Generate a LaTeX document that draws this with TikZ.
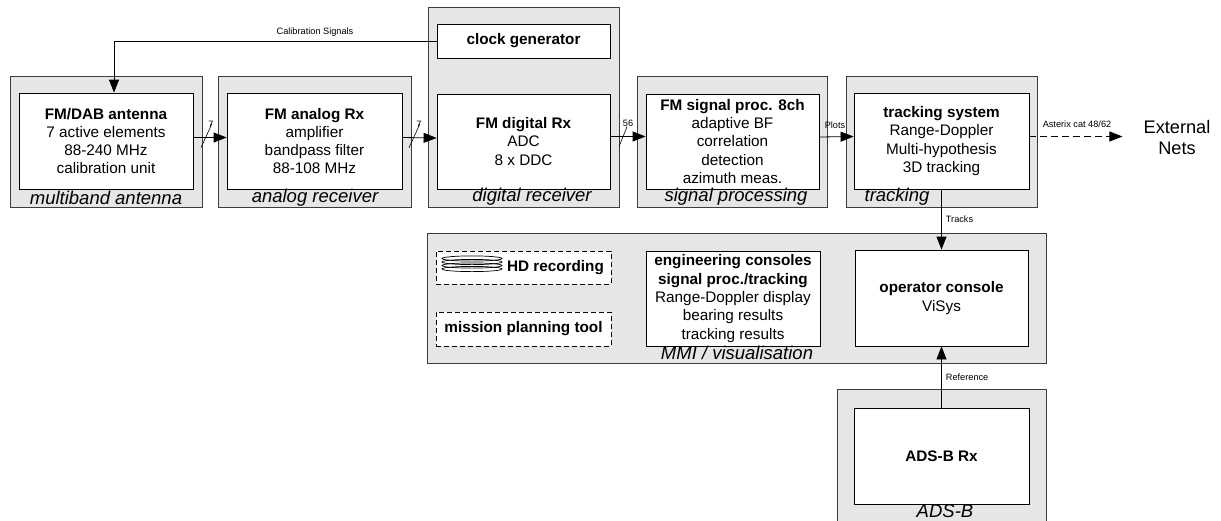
\documentclass[tikz,border=0pt]{standalone}
\usepackage{fontspec}
\setmainfont{Liberation Sans}
\usetikzlibrary{arrows.meta}
\definecolor{panel}{RGB}{230,230,230}
\definecolor{edge}{RGB}{60,60,60}
\newcommand{\boxfont}{\fontsize{15.3}{18.3}\selectfont}
\newcommand{\grpfont}{\fontsize{18.5}{20}\selectfont\itshape}
\newcommand{\lblfont}{\fontsize{9.2}{11}\selectfont}
\newcommand{\extfont}{\fontsize{18.2}{21}\selectfont}
\begin{document}
\begin{tikzpicture}[x=1pt,y=-1pt,
  outerbox/.style={draw=edge,fill=panel,line width=0.8pt,inner sep=0pt},
  innerbox/.style={draw=black,fill=white,line width=0.8pt,inner sep=0pt,align=center,font=\boxfont},
  dashbox/.style={innerbox,dash pattern=on 5pt off 3pt},
  grp/.style={font=\grpfont,inner sep=0pt},
  lbl/.style={font=\lblfont,inner sep=0pt},
  arr/.style={draw=black,line width=0.8pt,-{Triangle[length=13pt,width=10pt]}},
  bus/.style={draw=black,line width=0.6pt}]
\clip (0,0) rectangle (1221,520);
\fill[white] (0,0) rectangle (1221,520);

% outer group boxes
\node[outerbox,minimum width=192pt,minimum height=131pt] (antout) at (106,141.5) {};
\node[outerbox,minimum width=193pt,minimum height=131pt] (anaout) at (314.5,141.5) {};
\node[outerbox,minimum width=191pt,minimum height=200pt] (digout) at (523.5,107) {};
\node[outerbox,minimum width=190pt,minimum height=131pt] (sigout) at (732,141.5) {};
\node[outerbox,minimum width=191pt,minimum height=131pt] (trkout) at (941.5,141.5) {};
\node[outerbox,minimum width=619pt,minimum height=130pt] (mmiout) at (736.5,298) {};
\node[outerbox,minimum width=209pt,minimum height=141pt] (adsout) at (941.5,459.5) {};

% inner boxes
\node[innerbox,minimum width=174pt,minimum height=96pt] (antin) at (106,141)
  {\textbf{FM/DAB antenna}\\7 active elements\\88-240 MHz\\calibration unit};
\node[innerbox,minimum width=175pt,minimum height=96pt] (anain) at (314.5,141)
  {\textbf{FM analog Rx}\\amplifier\\bandpass filter\\88-108 MHz};
\node[innerbox,minimum width=173pt,minimum height=34pt] (clock) at (523.5,41)
  {\textbf{clock generator}};
\node[innerbox,minimum width=173pt,minimum height=95pt] (digin) at (523.5,141.5)
  {\textbf{FM digital Rx}\\ADC\\8 x DDC};
\node[innerbox,minimum width=173pt,minimum height=95pt] (sigin) at (732.5,141.5)
  {\textbf{FM signal proc. 8ch}\\adaptive BF\\correlation\\detection\\azimuth meas.};
\node[innerbox,minimum width=175pt,minimum height=96pt] (trkin) at (941.5,141)
  {\textbf{tracking system}\\Range-Doppler\\Multi-hypothesis\\3D tracking};
\node[innerbox,minimum width=173pt,minimum height=96pt] (opc) at (941.5,298)
  {\textbf{operator console}\\ViSys};
\node[innerbox,minimum width=174pt,minimum height=95pt] (eng) at (733,298.5)
  {\textbf{engineering consoles}\\\textbf{signal proc./tracking}\\Range-Doppler display\\bearing results\\tracking results};
\node[dashbox,minimum width=175pt,minimum height=33pt] (hdbox) at (523.5,267.5) {};
\node[innerbox,draw=none,fill=none] (hdtext) at (555.5,267.5) {\textbf{HD recording}};
\node[dashbox,minimum width=175pt,minimum height=34pt] (mpt) at (523.5,329)
  {\textbf{mission planning tool}};
\node[innerbox,minimum width=175pt,minimum height=96pt] (adsin) at (941.5,456)
  {\textbf{ADS-B Rx}};

% disk stack icon
\foreach \yy in {258.5,262,265.5,269}
  \draw[black,line width=0.7pt] (472,\yy) ellipse [x radius=30pt, y radius=2.6pt];

% group labels
\node[grp] (gant) at (106,198) {multiband antenna};
\node[grp] (gana) at (315,198) {analog receiver};
\node[grp] (gdig) at (532,197) {digital receiver};
\node[grp] (gsig) at (736,197) {signal processing};
\node[grp] (gtrk) at (897,197) {tracking};
\node[grp] (gmmi) at (737,353) {MMI / visualisation};
\node[grp] (gads) at (945,511) {ADS-B};

% external nets
\node[font=\extfont,align=center,inner sep=0pt] (ext) at (1177,137.5) {External\\Nets};

% connectors
\draw[arr] ([yshift=3.5pt]antin.east) -- coordinate[pos=0.38] (s1) ([yshift=3.5pt]anain.west);
\draw[bus] ([shift={(-5pt,-10pt)}]s1) -- ([shift={(6pt,14pt)}]s1);
\node[lbl] (l1) at ([shift={(5pt,13pt)}]s1) {7};

\draw[arr] ([yshift=3.5pt]anain.east) -- coordinate[pos=0.34] (s2) ([yshift=3.5pt]digin.west);
\draw[bus] ([shift={(-5pt,-10pt)}]s2) -- ([shift={(6pt,14pt)}]s2);
\node[lbl] (l2) at ([shift={(5pt,13pt)}]s2) {7};

\draw[arr] ([yshift=5pt]digin.east) -- coordinate[pos=0.36] (s3) ([yshift=5pt]sigin.west);
\draw[bus] ([shift={(-4pt,-10pt)}]s3) -- ([shift={(4pt,10pt)}]s3);
\node[lbl] (l3) at ([shift={(5pt,13pt)}]s3) {56};

\draw[arr] ([yshift=4.5pt]sigin.east) -- ([yshift=4.5pt]trkin.west);
\node[lbl] (l4) at (835,125) {Plots};

\draw[arr,dash pattern=on 7pt off 4pt,shorten >=21pt] ([yshift=4.5pt]trkin.east) -- (ext.west |- 0,136.5);
\node[lbl] (l5) at (1077,124) {Asterix cat 48/62};

\draw[arr] (clock.west) -| ([xshift=8pt]antin.north);
\node[lbl] (l6) at (315,32) {Calibration Signals};

\draw[arr] (trkin.south) -- node[lbl,right=4pt] (l7) {Tracks} (opc.north);
\draw[arr] (adsin.north) -- node[lbl,right=4pt] (l8) {Reference} (opc.south);
\end{tikzpicture}
\end{document}
